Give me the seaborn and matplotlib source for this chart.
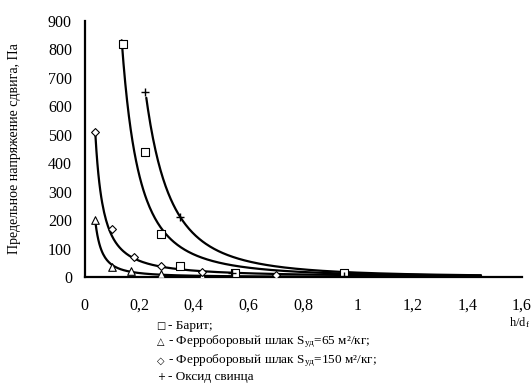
import numpy as np
import pandas as pd
import matplotlib
matplotlib.use("Agg")
import matplotlib.pyplot as plt
import seaborn as sns

barite_x = [0.14, 0.22, 0.28, 0.35, 0.55, 0.95]
barite_y = [820, 440, 150, 40, 15, 15]
tri_x = [0.04, 0.10, 0.17, 0.28, 0.43, 0.70]
tri_y = [200, 35, 20, 10, 5, 5]
dia_x = [0.04, 0.10, 0.18, 0.28, 0.43, 0.70]
dia_y = [510, 170, 72, 37, 18, 8]
pb_x = [0.22, 0.35, 0.54, 0.95]
pb_y = [650, 210, 15, 5]

# Power trendlines y = a * x^b, coefficients
trend_names = ["barite", "tri", "dia", "pb"]
trend_a = [10.75, 1.01, 6.56, 15.3]
trend_b = [-2.18, -1.63, -1.345, -2.5]
trend_start = [0.136, 0.04, 0.04, 0.226]
trend_end = 1.45

x_ticks = [0, 0.2, 0.4, 0.6, 0.8, 1.0, 1.2, 1.4, 1.6]
x_tick_labels = ["0", "0,2", "0,4", "0,6", "0,8", "1", "1,2", "1,4", "1,6"]
y_ticks = [0, 100, 200, 300, 400, 500, 600, 700, 800, 900]

sns.set_theme(style="white")
plt.rcParams['font.family'] = ['Liberation Serif', 'DejaVu Serif']
plt.rcParams['mathtext.fontset'] = 'custom'
plt.rcParams['mathtext.rm'] = 'Liberation Serif'
plt.rcParams['mathtext.it'] = 'Liberation Serif:italic'

W, H = 532, 383
fig = plt.figure(figsize=(W / 100, H / 100), dpi=100)
left, right, top, bottom = 84.5, 522, 21, 277
ax = fig.add_axes([left / W, 1 - bottom / H, (right - left) / W, (bottom - top) / H])

for a, b, x0 in zip(trend_a, trend_b, trend_start):
    xx = np.linspace(x0, trend_end, 400)
    yy = a * xx ** b
    sns.lineplot(x=xx, y=yy, ax=ax, color='black', lw=1.6, zorder=2)

series = [
    (barite_x, barite_y, 's', 26),
    (tri_x, tri_y, '^', 30),
    (dia_x, dia_y, 'D', 16),
]
for xs, ys, m, s in series:
    sns.scatterplot(x=xs, y=ys, ax=ax, marker=m, s=s,
                    facecolor='white', edgecolor='black', linewidth=0.8, zorder=3)
sns.scatterplot(x=pb_x, y=pb_y, ax=ax, marker='+', s=30, color='black',
                linewidth=1.0, zorder=4)

ax.set_xlim(0, 1.6)
ax.set_ylim(0, 900)
ax.set_xticks(x_ticks)
ax.set_xticklabels(x_tick_labels)
ax.set_yticks(y_ticks)
for s in ['top', 'right']:
    ax.spines[s].set_visible(False)
for s in ['left', 'bottom']:
    ax.spines[s].set_color('black')
    ax.spines[s].set_linewidth(1.6)
ax.tick_params(axis='both', which='both', direction='out', length=5, width=1.2,
               color='black', labelsize=11.5, labelcolor='black')
ax.tick_params(axis='x', pad=10)
ax.tick_params(axis='y', pad=4)
ax.set_ylabel("Предельное напряжение сдвига, Па", fontsize=10, color='black')
ax.yaxis.set_label_coords(-(left - 21) / (right - left), 0.5)
fig.text(530 / W, 1 - 323 / H, r"h/d$_\mathrm{f}$", ha='right', va='center',
         fontsize=9, color='black')

legend_syms = ["□", "△", "◇", "+"]
legend_texts = [
    "- Барит;",
    "- Ферроборовый шлак S$_{\\mathrm{уд}}$=65 м²/кг;",
    "- Ферроборовый шлак S$_{\\mathrm{уд}}$=150 м²/кг;",
    "- Оксид свинца",
]
ys_leg = [326, 342, 361, 377]
for sym, t, yp in zip(legend_syms, legend_texts, ys_leg):
    fig.text(161 / W, 1 - yp / H, sym, ha='center', va='center', fontsize=7,
             color='black', family=['DejaVu Sans'])
    fig.text(168 / W, 1 - yp / H, t, ha='left', va='center', fontsize=9.5,
             color='black')

fig.savefig("out.png", dpi=100)
